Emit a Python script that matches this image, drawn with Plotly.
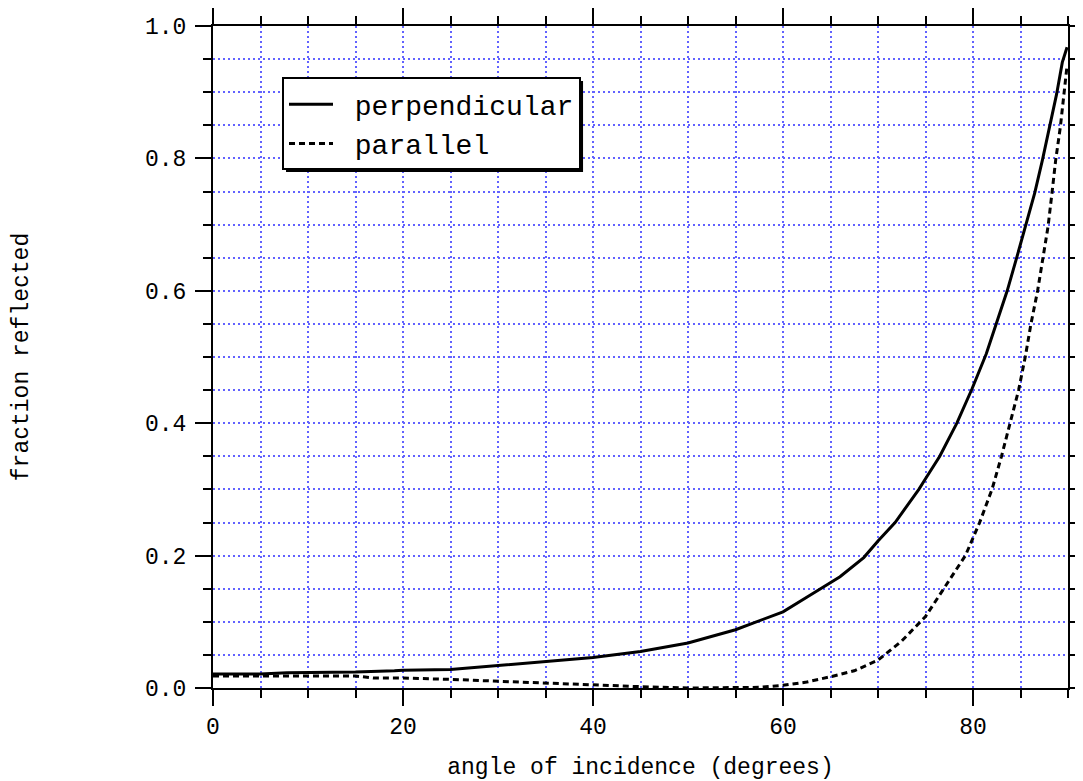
import plotly.graph_objects as go

# ---- data ----
perp_angle = [0, 5, 7.8, 10, 15, 19.1, 20, 25, 30, 35, 40, 45, 50, 55, 60, 62.5,
              65, 66, 68.5, 70, 71.8, 74.3, 75, 76.5, 78.3, 79.9, 81.4, 82.5,
              83.6, 84.6, 85.5, 86.5, 87.3, 88.1, 88.8, 89.4, 89.9]
perp_value = [0.021, 0.021, 0.023, 0.023, 0.024, 0.026, 0.027, 0.028, 0.034, 0.039,
              0.046, 0.055, 0.068, 0.088, 0.115, 0.137, 0.160, 0.168, 0.197, 0.222,
              0.25, 0.30, 0.316, 0.35, 0.40, 0.452, 0.505, 0.552, 0.60, 0.65, 0.697,
              0.748, 0.797, 0.85, 0.897, 0.945, 0.968]

par_angle = [0, 5, 10, 15, 17, 20, 25, 30, 35, 40, 45, 50, 55, 57.5, 60, 62.5,
             65, 67.5, 70, 72.5, 75, 76.9, 79.2, 80.7, 82.0, 83.0, 83.9, 84.8,
             85.5, 86.1, 86.8, 87.4, 87.9, 88.3, 88.7, 89.2, 89.6, 89.9]
par_value = [0.018, 0.018, 0.018, 0.018, 0.015, 0.015, 0.013, 0.010, 0.007, 0.004,
             0.002, 0.000, 0.000, 0.001, 0.004, 0.009, 0.017, 0.026, 0.042, 0.071,
             0.108, 0.15, 0.20, 0.25, 0.30, 0.35, 0.40, 0.45, 0.50, 0.55, 0.60,
             0.65, 0.697, 0.746, 0.797, 0.848, 0.897, 0.94]

series_names = ["perpendicular", "parallel"]

x_ticks = [0, 20, 40, 60, 80]
x_tick_text = ["0", "20", "40", "60", "80"]
y_ticks = [0.0, 0.2, 0.4, 0.6, 0.8, 1.0]
y_tick_text = ["0.0", "0.2", "0.4", "0.6", "0.8", "1.0"]

FONT = "Liberation Mono, Courier New, monospace"
GRID = "#6262ff"
GRID_DASH = "2px,3px"
NBSP = "\u00a0"

fig = go.Figure()
fig.add_trace(go.Scatter(x=perp_angle, y=perp_value, mode="lines",
                         name=NBSP + series_names[0],
                         line=dict(color="black", width=3)))
fig.add_trace(go.Scatter(x=par_angle, y=par_value, mode="lines",
                         name=NBSP + series_names[1],
                         line=dict(color="black", width=3, dash="6px,4px")))

axis_common = dict(
    showline=True, linecolor="black", linewidth=2,
    ticks="outside", ticklen=16, tickwidth=2, tickcolor="black",
    mirror="allticks", showgrid=True, gridcolor=GRID, gridwidth=1.5,
    griddash=GRID_DASH, zeroline=False,
    tickfont=dict(family=FONT, size=23, color="black"),
)

fig.update_xaxes(
    range=[0, 90], tickvals=x_ticks, ticktext=x_tick_text,
    minor=dict(dtick=5, ticklen=8, tickwidth=2, tickcolor="black", ticks="outside",
               showgrid=True, gridcolor=GRID, gridwidth=1.5, griddash=GRID_DASH),
    title=dict(text="angle of incidence (degrees)", font=dict(family=FONT, size=23, color="black"),
               standoff=19),
    ticklabelstandoff=0,
    **axis_common,
)
fig.update_yaxes(
    range=[0, 1], tickvals=y_ticks, ticktext=y_tick_text,
    minor=dict(dtick=0.05, ticklen=8, tickwidth=2, tickcolor="black", ticks="outside",
               showgrid=True, gridcolor=GRID, gridwidth=1.5, griddash=GRID_DASH),
    title=dict(text="fraction reflected", font=dict(family=FONT, size=23, color="black"),
               standoff=110),
    ticklabelstandoff=4,
    **axis_common,
)

# drop shadow behind the legend box (paper coordinates)
fig.add_shape(type="rect", xref="paper", yref="paper",
              x0=0.0854, x1=0.4328, y0=0.7795, y1=0.917,
              fillcolor="black", line=dict(width=0), layer="above")

fig.update_layout(
    width=1075, height=773,
    margin=dict(l=205, r=15, t=18, b=93, autoexpand=False),
    paper_bgcolor="white", plot_bgcolor="white",
    font=dict(family=FONT, color="black"),
    legend=dict(x=0.0807, y=0.852, xanchor="left", yanchor="middle",
                bgcolor="white", bordercolor="black", borderwidth=2,
                font=dict(family=FONT, size=28, color="black"),
                tracegroupgap=0, itemwidth=44),
    showlegend=True,
)

fig.write_html("out.html")
